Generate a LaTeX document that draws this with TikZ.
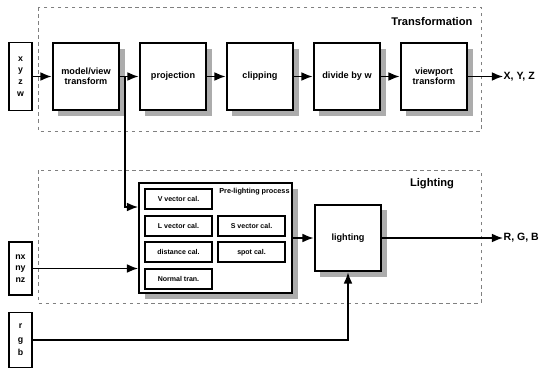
\documentclass[tikz,border=0pt]{standalone}
\usepackage{fontspec}
\setmainfont{Liberation Sans}
\usetikzlibrary{arrows.meta,positioning,shadows}

\begin{document}
\begin{tikzpicture}[->,>={Latex[length=9.5pt,width=7.5pt]},line width=1.2pt,x=0.03cm,y=-0.03cm,node distance=2.61cm]
  \tikzstyle{block}=[draw,line width=1.9pt,fill=white,minimum width=2.0cm,minimum height=2.0cm,align=center,
    font=\fontsize{7.8}{8.8}\selectfont\bfseries,
    drop shadow={shadow xshift=0.17cm,shadow yshift=-0.17cm,fill=gray!65,opacity=1}]
  \tikzstyle{calbox}=[draw,line width=1.5pt,fill=white,minimum width=2.0cm,minimum height=0.6cm,
    font=\fontsize{6}{7}\selectfont\bfseries]
  \tikzstyle{inbox}=[draw,line width=1.4pt,fill=white,minimum width=0.69cm,align=center,inner sep=1pt,
    font=\fontsize{7.5}{10}\selectfont\bfseries]
  \tikzstyle{frame}=[-,draw=gray,line width=0.5pt,dash pattern=on 3pt off 3pt]
  \tikzstyle{title}=[font=\fontsize{9.5}{11}\selectfont\bfseries]
  \tikzstyle{outlabel}=[anchor=west,inner sep=0pt,font=\fontsize{9}{11}\selectfont\bfseries]

  \useasboundingbox (0,0) rectangle (541,369);

  % dashed frames
  \draw[frame] (38,7) rectangle (481,131);
  \draw[frame] (38,170) rectangle (481,303);
  \node[title,anchor=east] (ttrans) at (477,22) {Transformation};
  \node[title] (tlight) at (432,184) {Lighting};

  % transformation
  \node[inbox,minimum height=2.04cm] (xyzw) at (20.5,76.5) {x\\y\\z\\w};
  \node[block] (model) at (86,76.5) {model/view\\transform};
  \node[block] (proj)  [right of=model] {projection};
  \node[block] (clip)  [right of=proj]  {clipping};
  \node[block] (divw)  [right of=clip]  {divide by w};
  \node[block] (view)  [right of=divw]  {viewport\\transform};
  \node[outlabel] (xyz) at (503,76.5) {X, Y, Z};

  % lighting
  \node[draw,line width=1.6pt,fill=white,minimum width=4.59cm,minimum height=3.3cm,
    drop shadow={shadow xshift=0.17cm,shadow yshift=-0.17cm,fill=gray!65,opacity=1}] (pre) at (215.5,238) {};
  \node[font=\fontsize{6.2}{7}\selectfont\bfseries,inner sep=0pt,below left=0.15cm and 0.08cm of pre.north east] (prelabel) {Pre-lighting process};
  \node[calbox] (vvec) at (178.5,199) {V vector cal.};
  \node[calbox] (lvec) [below of=vvec,node distance=0.8cm] {L vector cal.};
  \node[calbox] (dist) [below of=lvec,node distance=0.8cm] {distance cal.};
  \node[calbox] (norm) [below of=dist,node distance=0.8cm] {Normal tran.};
  \node[calbox] (svec) [right of=lvec,node distance=2.19cm] {S vector cal.};
  \node[calbox] (spot) [right of=dist,node distance=2.19cm] {spot cal.};

  \node[block] (light) at (348,238) {lighting};
  \node[outlabel] (rgbout) at (503,238) {R, G, B};

  \node[inbox,minimum height=1.59cm] (nn) at (20.5,268.5) {nx\\ny\\nz};
  \node[inbox,minimum height=1.65cm,font=\fontsize{7.5}{11.5}\selectfont\bfseries] (rgb) at (20.5,340) {r\\g\\b};

  \coordinate (branch) at (125,76.5);
  \coordinate (prein) at (pre.west |- 0,207);

  \draw (xyzw) -- (model);
  \draw (model) -- (proj);
  \draw (proj) -- (clip);
  \draw (clip) -- (divw);
  \draw (divw) -- (view);
  \draw (view) -- (xyz);
  \draw (branch) |- (prein);
  \draw (nn) -- (nn -| pre.west);
  \draw (pre) -- (light);
  \draw (light) -- (rgbout);
  \draw (rgb) -| (light);
\end{tikzpicture}
\end{document}
